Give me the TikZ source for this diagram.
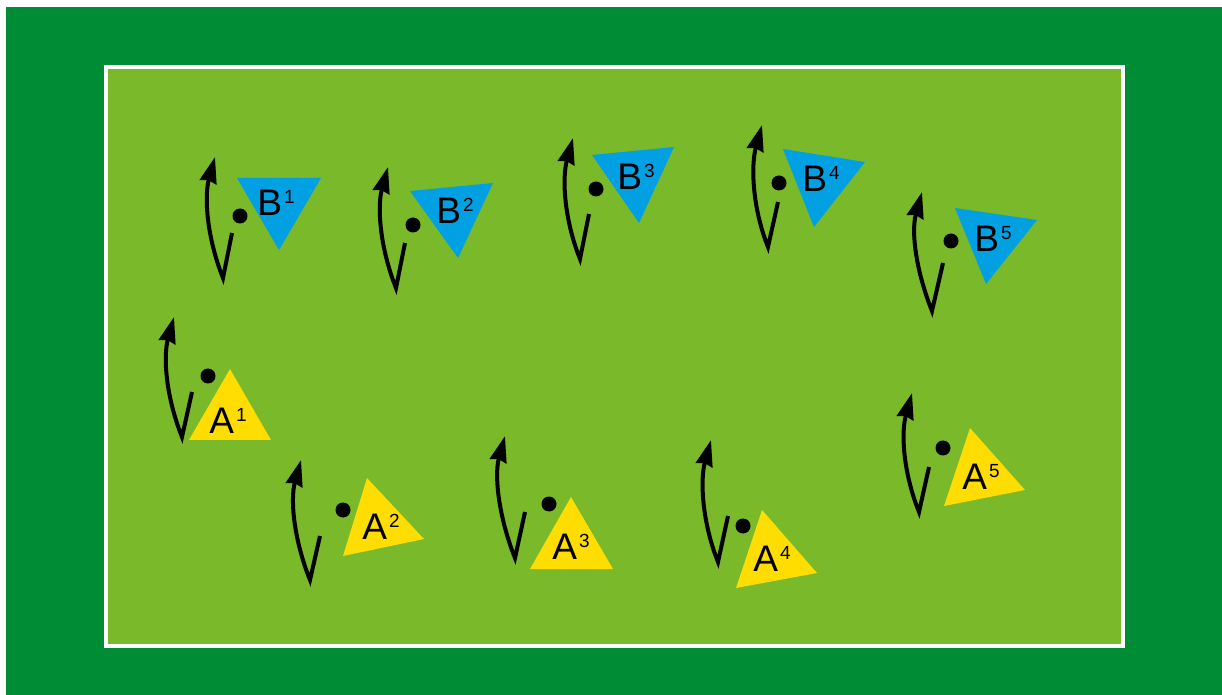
\documentclass[tikz,border=0pt]{standalone}
\usepackage{fontspec}
\setmainfont{Liberation Sans}
\usepackage{tikz}
\usetikzlibrary{arrows.meta}

\definecolor{pitchdark}{RGB}{0,140,53}
\definecolor{pitchgrass}{RGB}{122,185,42}
\definecolor{teamblue}{RGB}{0,160,227}
\definecolor{teamyellow}{RGB}{255,221,0}

\newcommand{\shirt}[2]{#1\kern1pt\raisebox{6pt}{\fontsize{9.5}{9.5}\selectfont #2}}

\begin{document}
\begin{tikzpicture}[x=0.5pt, y=-0.5pt,
        bluetri/.style={fill=teamblue},
        yellowtri/.style={fill=teamyellow},
        shirtlabel/.style={inner sep=0pt, text=black, font=\fontsize{18.5}{18.5}\selectfont},
        ball/.style={circle, fill=black, inner sep=0pt, minimum size=7.5pt},
        turn/.style={line width=2pt, -{Stealth[length=13pt, width=8.5pt, inset=1pt]}},
]
        \useasboundingbox (0,0) rectangle (1222,695);
        \fill[white] (0,0) rectangle (1222,695);
        \fill[pitchdark] (6,7) rectangle (1222,695);
        \fill[pitchgrass] (106,67) rectangle (1123,646);
        \draw[white, line width=2pt] (106,67) rectangle (1123,646);

        \fill[bluetri] (237,178) -- (321,178) -- (279,250) -- cycle;
        \fill[bluetri] (410,191) -- (493,183) -- (458,258) -- cycle;
        \fill[bluetri] (592,155) -- (674,147) -- (639,223) -- cycle;
        \fill[bluetri] (783,149) -- (865,162) -- (814,227) -- cycle;
        \fill[bluetri] (955,208) -- (1037,220) -- (986,284) -- cycle;
        \fill[yellowtri] (230,369) -- (189,440) -- (271,440) -- cycle;
        \fill[yellowtri] (367,478) -- (343,556) -- (424,539) -- cycle;
        \fill[yellowtri] (571,497) -- (530,569) -- (613,569) -- cycle;
        \fill[yellowtri] (762,510) -- (736,588) -- (817,573) -- cycle;
        \fill[yellowtri] (970,428) -- (944,506) -- (1025,490) -- cycle;

        \node[shirtlabel] (b1) at (276,203) {\shirt{B}{1}};
        \node[shirtlabel] (b2) at (455,211) {\shirt{B}{2}};
        \node[shirtlabel] (b3) at (636,177) {\shirt{B}{3}};
        \node[shirtlabel] (b4) at (821,179) {\shirt{B}{4}};
        \node[shirtlabel] (b5) at (993,239) {\shirt{B}{5}};
        \node[shirtlabel] (a1) at (228,421) {\shirt{A}{1}};
        \node[shirtlabel] (a2) at (381,527) {\shirt{A}{2}};
        \node[shirtlabel] (a3) at (571,547) {\shirt{A}{3}};
        \node[shirtlabel] (a4) at (772,559) {\shirt{A}{4}};
        \node[shirtlabel] (a5) at (981,477) {\shirt{A}{5}};

        \node[ball] (ballb1) at (240,216) {};
        \node[ball] (ballb2) at (413,225) {};
        \node[ball] (ballb3) at (596,189) {};
        \node[ball] (ballb4) at (779,183) {};
        \node[ball] (ballb5) at (951,241) {};
        \node[ball] (balla1) at (208,376) {};
        \node[ball] (balla2) at (343,510) {};
        \node[ball] (balla3) at (549,504) {};
        \node[ball] (balla4) at (743,526) {};
        \node[ball] (balla5) at (943,448) {};

        \coordinate (startb1) at (232,233); \coordinate (backb1) at (223,278); \coordinate (endb1) at (215,157);
        \coordinate (startb2) at (405,243); \coordinate (backb2) at (396,288); \coordinate (endb2) at (388,167);
        \coordinate (startb3) at (589,214); \coordinate (backb3) at (580,259); \coordinate (endb3) at (573,138);
        \coordinate (startb4) at (778,202); \coordinate (backb4) at (768,247); \coordinate (endb4) at (762,125);
        \coordinate (startb5) at (943,263); \coordinate (backb5) at (932,311); \coordinate (endb5) at (922,192);
        \coordinate (starta1) at (192,392); \coordinate (backa1) at (182,437); \coordinate (enda1) at (174,317);
        \coordinate (starta2) at (320,536); \coordinate (backa2) at (310,580); \coordinate (enda2) at (301,460);
        \coordinate (starta3) at (525,512); \coordinate (backa3) at (515,558); \coordinate (enda3) at (505,436);
        \coordinate (starta4) at (728,516); \coordinate (backa4) at (718,562); \coordinate (enda4) at (711,440);
        \coordinate (starta5) at (929,467); \coordinate (backa5) at (919,512); \coordinate (enda5) at (912,393);

        \draw[turn] (startb1) -- (backb1) .. controls +(-16,-40) and +(-11,40) .. (endb1);
        \draw[turn] (startb2) -- (backb2) .. controls +(-16,-40) and +(-11,40) .. (endb2);
        \draw[turn] (startb3) -- (backb3) .. controls +(-16,-40) and +(-11,40) .. (endb3);
        \draw[turn] (startb4) -- (backb4) .. controls +(-16,-40) and +(-11,40) .. (endb4);
        \draw[turn] (startb5) -- (backb5) .. controls +(-16,-40) and +(-11,40) .. (endb5);
        \draw[turn] (starta1) -- (backa1) .. controls +(-16,-40) and +(-11,40) .. (enda1);
        \draw[turn] (starta2) -- (backa2) .. controls +(-16,-40) and +(-11,40) .. (enda2);
        \draw[turn] (starta3) -- (backa3) .. controls +(-16,-40) and +(-11,40) .. (enda3);
        \draw[turn] (starta4) -- (backa4) .. controls +(-16,-40) and +(-11,40) .. (enda4);
        \draw[turn] (starta5) -- (backa5) .. controls +(-16,-40) and +(-11,40) .. (enda5);
\end{tikzpicture}
\end{document}
